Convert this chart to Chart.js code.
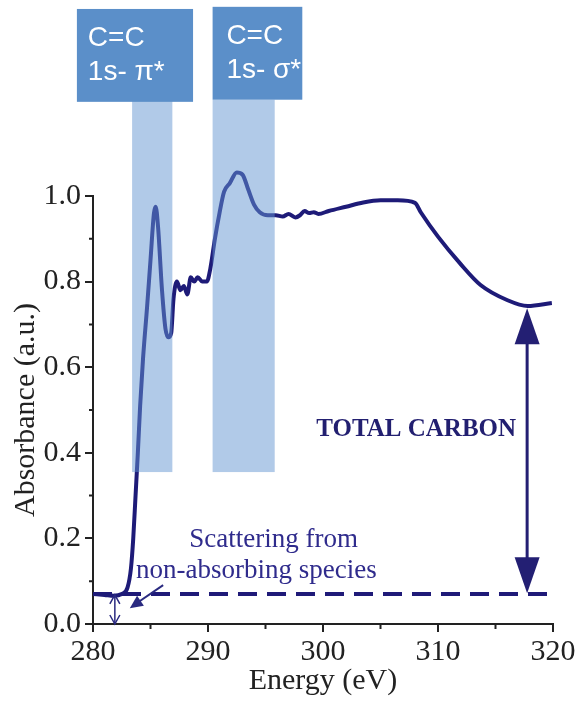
<!DOCTYPE html>
<html>
<head>
<meta charset="utf-8">
<script src="https://cdn.jsdelivr.net/npm/chart.js@4/dist/chart.umd.min.js"></script>
<style>
  html, body { margin: 0; padding: 0; background: #fff; }
</style>
</head>
<body>
<canvas id="xasChart" width="581" height="701"></canvas>
<script>
// C K-edge absorption spectrum
const energy = [280, 281, 281.8, 282.5, 283, 283.3, 283.5, 283.7, 283.9, 284.1, 284.35, 284.7, 285, 285.3, 285.45,
  285.65, 286, 286.3, 286.55, 286.8, 287, 287.3, 287.6, 287.9, 288.2, 288.5, 288.8, 289.1, 289.5, 289.9, 290.2,
  290.6, 291, 291.4, 291.9, 292.5, 293, 293.5, 294, 294.5, 295.2, 295.9, 296.5, 297, 297.6, 298, 298.4, 298.8,
  299.2, 299.6, 300.5, 302, 303.5, 305, 306.5, 308, 308.5, 310, 311.9, 313.7, 316, 317.8, 319.9];
const absorbance = [0.070, 0.068, 0.066, 0.070, 0.085, 0.13, 0.20, 0.30, 0.40, 0.51, 0.62, 0.74, 0.85, 0.96, 0.975,
  0.93, 0.78, 0.69, 0.67, 0.68, 0.76, 0.80, 0.78, 0.79, 0.77, 0.81, 0.80, 0.81, 0.80, 0.80, 0.83,
  0.90, 0.96, 1.01, 1.03, 1.055, 1.05, 1.015, 0.98, 0.962, 0.955, 0.955, 0.952, 0.958, 0.950, 0.955, 0.965, 0.960,
  0.962, 0.958, 0.965, 0.975, 0.985, 0.99, 0.99, 0.984, 0.962, 0.905, 0.843, 0.792, 0.757, 0.743, 0.750];

// scattering baseline
const baselineEnergy = [280, 320];
const baselineValue = [0.07, 0.07];

const xTicks = [280, 290, 300, 310, 320];
const yTicks = [0.0, 0.2, 0.4, 0.6, 0.8, 1.0];

// shaded transition regions [from eV, to eV]
const bandPi = [283.4, 286.9];
const bandSigma = [290.4, 295.8];

const NAVY = '#1e1b78';
const SERIF = '"Liberation Serif", "Times New Roman", serif';

function arrowHead(ctx, x1, y1, x2, y2, len, w, filled) {
    const ang = Math.atan2(y2 - y1, x2 - x1);
    const bx = x2 - len * Math.cos(ang), by = y2 - len * Math.sin(ang);
    const nx = -Math.sin(ang) * w / 2, ny = Math.cos(ang) * w / 2;
    ctx.beginPath();
    ctx.moveTo(bx + nx, by + ny);
    ctx.lineTo(x2, y2);
    ctx.lineTo(bx - nx, by - ny);
    if (filled) { ctx.closePath(); ctx.fill(); } else { ctx.stroke(); }
}

// bands, label boxes, arrows, texts, minor ticks
const annotate = {
    id: 'annotate',
    afterDatasetsDraw(chart) {
        const ctx = chart.ctx;
        const xs = chart.scales.x, ys = chart.scales.y;
        const X = v => xs.getPixelForValue(v);
        const Y = v => ys.getPixelForValue(v);
        ctx.save();

        // shaded bands over the curve
        ctx.fillStyle = 'rgba(100,150,210,0.5)';
        [bandPi, bandSigma].forEach(b => {
            ctx.fillRect(X(b[0]), Y(1.225), X(b[1]) - X(b[0]), Y(0.355) - Y(1.225));
        });

        // label boxes
        ctx.fillStyle = '#5b8fc9';
        ctx.fillRect(X(278.6), Y(1.437), X(288.7) - X(278.6), Y(1.22) - Y(1.437));
        ctx.fillRect(X(290.4), Y(1.442), X(298.2) - X(290.4), Y(1.225) - Y(1.442));
        ctx.fillStyle = '#ffffff';
        ctx.font = '28px "Liberation Sans", Arial, sans-serif';
        ctx.textBaseline = 'alphabetic';
        ctx.textAlign = 'left';
        ctx.fillText('C=C', X(279.55), 46);
        ctx.fillText('1s- π*', X(279.55), 80);
        ctx.fillText('C=C', X(291.6), 44);
        ctx.fillText('1s- σ*', X(291.6), 78);

        // total carbon double arrow
        ctx.strokeStyle = '#231f73';
        ctx.fillStyle = '#231f73';
        ctx.lineWidth = 3;
        const ax = X(317.75);
        ctx.beginPath();
        ctx.moveTo(ax, Y(0.66));
        ctx.lineTo(ax, Y(0.15));
        ctx.stroke();
        arrowHead(ctx, ax, Y(0.5), ax, Y(0.738), 36, 25, true);
        arrowHead(ctx, ax, Y(0.3), ax, Y(0.072), 36, 25, true);

        // small baseline arrow
        ctx.lineWidth = 1.5;
        ctx.strokeStyle = '#2a2a80';
        const sx = X(281.9);
        ctx.beginPath();
        ctx.moveTo(sx, Y(0.068));
        ctx.lineTo(sx, Y(0.0));
        ctx.stroke();
        arrowHead(ctx, sx, Y(0.0), sx, Y(0.068), 9, 10, false);
        arrowHead(ctx, sx, Y(0.068), sx, Y(0.0), 9, 10, false);

        // pointer from text to baseline
        ctx.lineWidth = 2;
        ctx.strokeStyle = '#2a2a80';
        ctx.fillStyle = '#2a2a80';
        ctx.beginPath();
        ctx.moveTo(X(286.1), Y(0.091));
        ctx.lineTo(X(283.6), Y(0.045));
        ctx.stroke();
        arrowHead(ctx, X(286.1), Y(0.091), X(283.2), Y(0.037), 13, 12, true);

        // texts
        ctx.fillStyle = '#2f2b8c';
        ctx.font = '27px ' + SERIF;
        ctx.textAlign = 'center';
        ctx.fillText('Scattering from', X(295.7), Y(0.18));
        ctx.fillText('non-absorbing species', X(294.2), Y(0.107));
        ctx.fillStyle = '#221f70';
        ctx.font = 'bold 25px ' + SERIF;
        ctx.fillText('TOTAL CARBON', X(308.1), Y(0.44));

        // minor ticks
        ctx.strokeStyle = '#222';
        ctx.lineWidth = 2;
        ctx.beginPath();
        for (let e = 285; e < 320; e += 10) {
            ctx.moveTo(X(e), ys.bottom);
            ctx.lineTo(X(e), ys.bottom + 5);
        }
        for (let a = 0.1; a < 1.0; a += 0.2) {
            ctx.moveTo(xs.left, Y(a));
            ctx.lineTo(xs.left - 4, Y(a));
        }
        ctx.stroke();
        ctx.restore();
    }
};

const ctx = document.getElementById('xasChart').getContext('2d');
new Chart(ctx, {
    type: 'line',
    data: {
        datasets: [{
            data: energy.map((e, i) => ({ x: e, y: absorbance[i] })),
            borderColor: NAVY,
            borderWidth: 4,
            pointRadius: 0,
            cubicInterpolationMode: 'monotone',
            clip: false
        }, {
            data: baselineEnergy.map((e, i) => ({ x: e, y: baselineValue[i] })),
            borderColor: '#1f1a78',
            borderWidth: 4,
            borderDash: [19, 10],
            pointRadius: 0,
            clip: false
        }]
    },
    options: {
        responsive: false,
        animation: false,
        layout: { padding: { top: 196, right: 28, left: 0, bottom: 0 } },
        plugins: { legend: { display: false }, tooltip: { enabled: false } },
        scales: {
            x: {
                type: 'linear', min: 280, max: 320,
                afterBuildTicks: s => { s.ticks = xTicks.map(v => ({ value: v })); },
                ticks: { color: '#222', font: { family: SERIF, size: 30 }, padding: 2, maxRotation: 0 },
                grid: { drawOnChartArea: false, tickLength: 8, color: '#222', lineWidth: 2 },
                border: { display: true, color: '#222', width: 2 },
                title: { display: true, text: 'Energy (eV)', color: '#222', font: { family: SERIF, size: 30 }, padding: { top: 0, bottom: 2 } },
                afterFit: s => { s.height = 77; }
            },
            y: {
                min: 0, max: 1.0,
                afterBuildTicks: s => { s.ticks = yTicks.map(v => ({ value: v })); },
                ticks: { color: '#222', font: { family: SERIF, size: 30 }, padding: 4, callback: v => v.toFixed(1) },
                grid: { drawOnChartArea: false, tickLength: 8, color: '#222', lineWidth: 2 },
                border: { display: true, color: '#222', width: 2 },
                title: { display: true, text: 'Absorbance (a.u.)', color: '#222', font: { family: SERIF, size: 30 }, padding: { top: 8, bottom: 0 } },
                afterFit: s => { s.width = 93; }
            }
        }
    },
    plugins: [annotate]
});
</script>
</body>
</html>
